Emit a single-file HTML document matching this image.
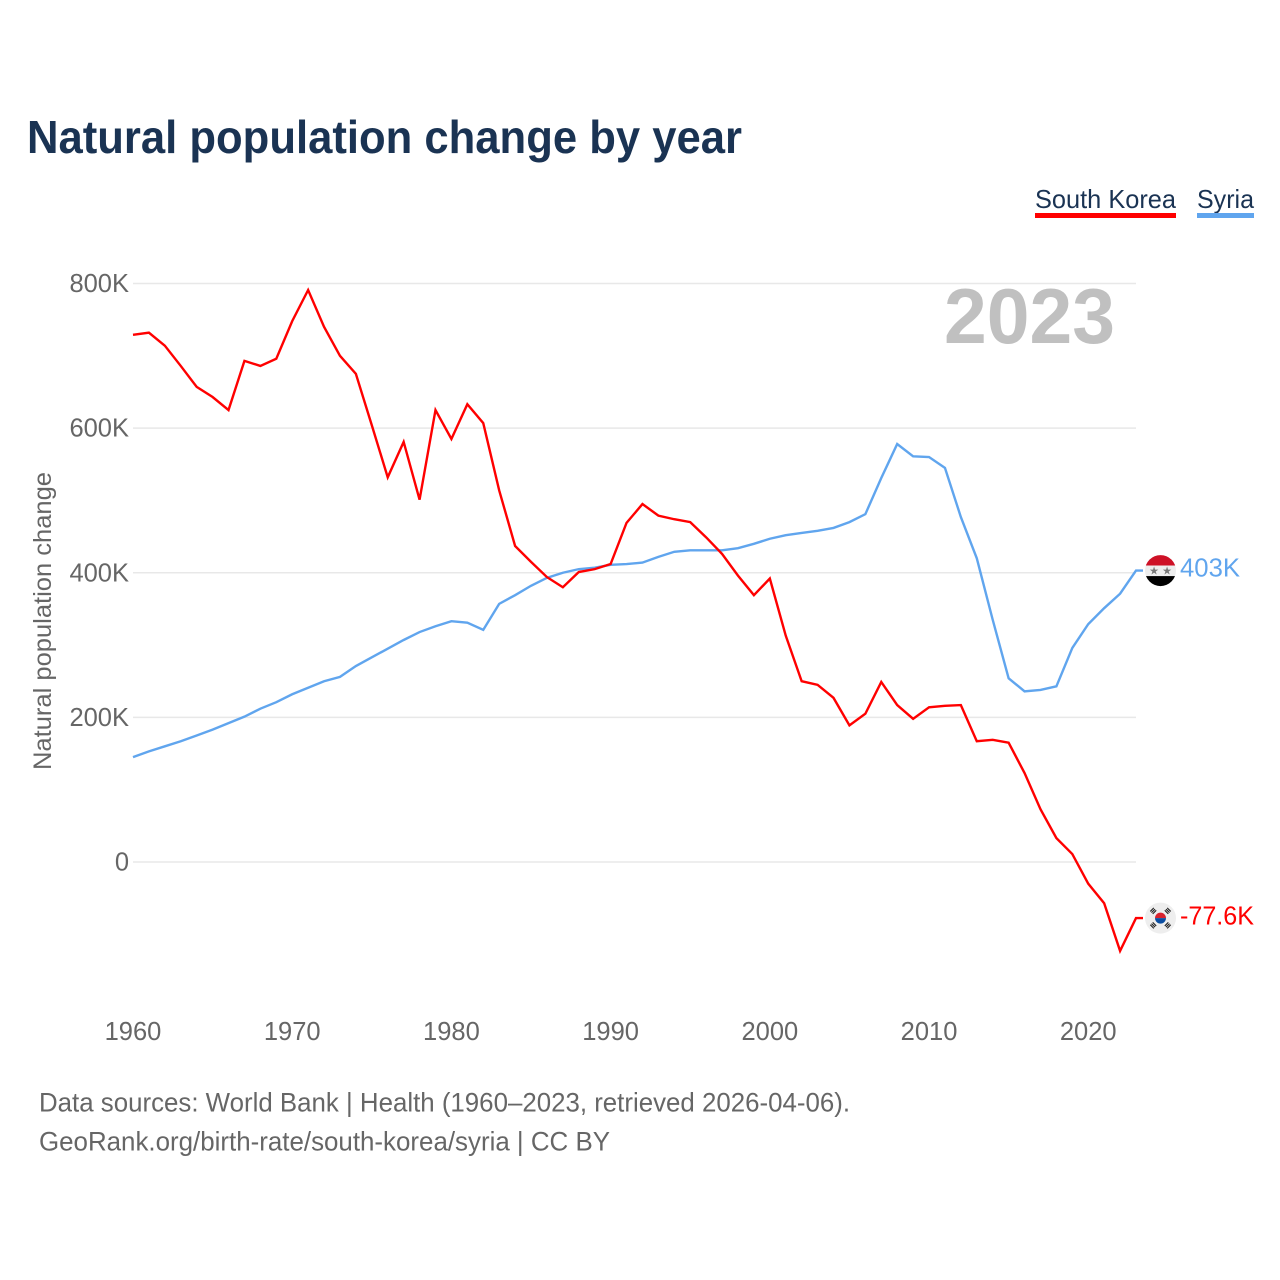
<!DOCTYPE html>
<html lang="en">
<head>
<meta charset="utf-8">
<title>Natural population change by year</title>
<style>
html,body{margin:0;padding:0;background:#fff;width:1280px;height:1280px;overflow:hidden}
svg{display:block;font-family:"Liberation Sans",sans-serif}
</style>
</head>
<body>
<svg id="chart" width="1280" height="1280" viewBox="0 0 1280 1280" xmlns="http://www.w3.org/2000/svg">
  <defs>
    <clipPath id="syria-clip"><circle cx="0" cy="0" r="15.5"/></clipPath>
    <clipPath id="korea-clip"><circle cx="0" cy="0" r="15.5"/></clipPath>
  </defs>
  <text x="27" y="153" font-size="46" font-weight="700" fill="#1a3353" textLength="715" lengthAdjust="spacingAndGlyphs">Natural population change by year</text>

  <g>
    <text x="1035" y="208" font-size="26" fill="#1a3353" textLength="141" lengthAdjust="spacingAndGlyphs">South Korea</text>
    <rect x="1035" y="213" width="141" height="5" fill="#ff0000"/>
  </g>
  <g>
    <text x="1197" y="208" font-size="26" fill="#1a3353" textLength="57" lengthAdjust="spacingAndGlyphs">Syria</text>
    <rect x="1197" y="213" width="57" height="5" fill="#60a5ee"/>
  </g>

  <g id="grid"></g>
  <g id="yticks"></g>
  <g id="xticks"></g>

  <text transform="translate(51,621) rotate(-90)" text-anchor="middle" font-size="25" fill="#666666" textLength="298" lengthAdjust="spacingAndGlyphs">Natural population change</text>

  <text x="944" y="343" font-size="78" font-weight="700" fill="#c0c0c0" textLength="171" lengthAdjust="spacingAndGlyphs">2023</text>

  <g id="series"></g>

  <g id="syria-marker">
    <g clip-path="url(#syria-clip)">
      <rect x="-16" y="-16" width="32" height="11" fill="#ce1126"/>
      <rect x="-16" y="-5" width="32" height="10.500" fill="#eeeeee"/>
      <rect x="-16" y="5.500" width="32" height="11" fill="#000000"/>
      <text x="-6.500" y="4" font-size="11" text-anchor="middle" fill="#777777" font-family="'DejaVu Sans',sans-serif">★</text>
      <text x="6.500" y="4" font-size="11" text-anchor="middle" fill="#777777" font-family="'DejaVu Sans',sans-serif">★</text>
    </g>
  </g>
  <g id="korea-marker">
    <g clip-path="url(#korea-clip)">
      <rect x="-16" y="-16" width="32" height="32" fill="#eeeeee"/>
      <path d="M-5.500 0A5.500 5.500 0 0 1 5.500 0Z" fill="#d8232f"/>
      <path d="M-5.500 0A5.500 5.500 0 0 0 5.500 0Z" fill="#0b4ea2"/>
      <g fill="#222222">
        <g transform="rotate(-45)"><rect x="-2.500" y="-12.500" width="5" height="1.100"/><rect x="-2.500" y="-10.800" width="5" height="1.100"/><rect x="-2.500" y="-9.100" width="5" height="1.100"/></g>
        <g transform="rotate(45)"><rect x="-2.500" y="-12.500" width="5" height="1.100"/><rect x="-2.500" y="-10.800" width="5" height="1.100"/><rect x="-2.500" y="-9.100" width="5" height="1.100"/></g>
        <g transform="rotate(135)"><rect x="-2.500" y="-12.500" width="5" height="1.100"/><rect x="-2.500" y="-10.800" width="5" height="1.100"/><rect x="-2.500" y="-9.100" width="5" height="1.100"/></g>
        <g transform="rotate(-135)"><rect x="-2.500" y="-12.500" width="5" height="1.100"/><rect x="-2.500" y="-10.800" width="5" height="1.100"/><rect x="-2.500" y="-9.100" width="5" height="1.100"/></g>
      </g>
    </g>
  </g>

  <text x="39" y="1111.500" font-size="26.500" fill="#666666" textLength="811" lengthAdjust="spacingAndGlyphs">Data sources: World Bank | Health (1960–2023, retrieved 2026-04-06).</text>
  <text x="39" y="1150.500" font-size="26.500" fill="#666666" textLength="571" lengthAdjust="spacingAndGlyphs">GeoRank.org/birth-rate/south-korea/syria | CC BY</text>
</svg>
<script>
const startYear = 1960;
const southKoreaValues = [729,732,714,686,657,643,625,693,686,696,748,791,740,700,675,604,532,581,501,625,585,633,607,514,437,415,394,380,401,405,412,469,495,479,474,470,449,426,396,369,392,313,250,245,227,189,205,249,217,198,214,216,217,167,169,165,123,73,33,11,-30,-57,-123,-77.6];
const syriaValues = [145,153,160,167,175,183,192,201,212,221,232,241,250,256,271,283,295,307,318,326,333,331,321,357,369,382,393,400,405,407,411,412,414,422,429,431,431,431,434,440,447,452,455,458,462,470,481,531,578,561,560,545,477,420,335,254,236,238,243,296,329,351,371,403];
const xTickYears = [1960,1970,1980,1990,2000,2010,2020];
const yTickValues = [0,200,400,600,800];
const yTickLabels = ['0','200K','400K','600K','800K'];
const southKoreaEndLabel = '-77.6K';
const syriaEndLabel = '403K';

const NS = 'http://www.w3.org/2000/svg';
const xScale = function (year) { return 133 + (year - 1960) * (1003 / 63); };
const yScale = function (v) { return 862 - v * (578.5 / 800); };

function make(tag, attrs, parent) {
  const node = document.createElementNS(NS, tag);
  for (const k in attrs) node.setAttribute(k, attrs[k]);
  parent.appendChild(node);
  return node;
}

const grid = document.getElementById('grid');
const yticks = document.getElementById('yticks');
const xticks = document.getElementById('xticks');
const series = document.getElementById('series');
const svgRoot = document.getElementById('chart');

yTickValues.forEach(function (v, i) {
  const line = make('line', {x1: 133, x2: 1136, y1: yScale(v), y2: yScale(v), stroke: '#e8e8e8', 'stroke-width': 1.5}, grid);
  
  
  const label = make('text', {x: 129, y: yScale(v) + 8.5, 'text-anchor': 'end', 'font-size': 25.5, fill: '#666666'}, yticks);
  label.textContent = yTickLabels[i];
  
  
});

xTickYears.forEach(function (year) {
  const label = make('text', {x: xScale(year), y: 1040, 'text-anchor': 'middle', 'font-size': 25.5, fill: '#666666'}, xticks);
  label.textContent = String(year);
  
  
});

function linePoints(values) {
  const pts = values.map(function (v, i) {
    return xScale(startYear + i).toFixed(2) + ',' + yScale(v).toFixed(2);
  });
  pts.push('1143,' + yScale(values[values.length - 1]).toFixed(2));
  return pts.join(' ');
}

const syriaLine = make('polyline', {points: linePoints(syriaValues), fill: 'none', stroke: '#60a5ee', 'stroke-width': 2.4, 'stroke-linejoin': 'miter'}, series);



const koreaLine = make('polyline', {points: linePoints(southKoreaValues), fill: 'none', stroke: '#ff0000', 'stroke-width': 2.4, 'stroke-linejoin': 'miter'}, series);



const syriaEndY = yScale(syriaValues[syriaValues.length - 1]);
const koreaEndY = yScale(southKoreaValues[southKoreaValues.length - 1]);
document.getElementById('syria-marker').setAttribute('transform', 'translate(1160.5,' + syriaEndY + ')');
document.getElementById('korea-marker').setAttribute('transform', 'translate(1160.5,' + koreaEndY + ')');

const syriaValueLabel = make('text', {x: 1180, y: syriaEndY + 6, 'font-size': 25.5, fill: '#60a5ee', textLength: 60, lengthAdjust: 'spacingAndGlyphs'}, svgRoot);
syriaValueLabel.textContent = syriaEndLabel;



const koreaValueLabel = make('text', {x: 1180, y: koreaEndY + 6.5, 'font-size': 25.5, fill: '#ff0000', textLength: 74, lengthAdjust: 'spacingAndGlyphs'}, svgRoot);
koreaValueLabel.textContent = southKoreaEndLabel;


</script>
</body>
</html>
